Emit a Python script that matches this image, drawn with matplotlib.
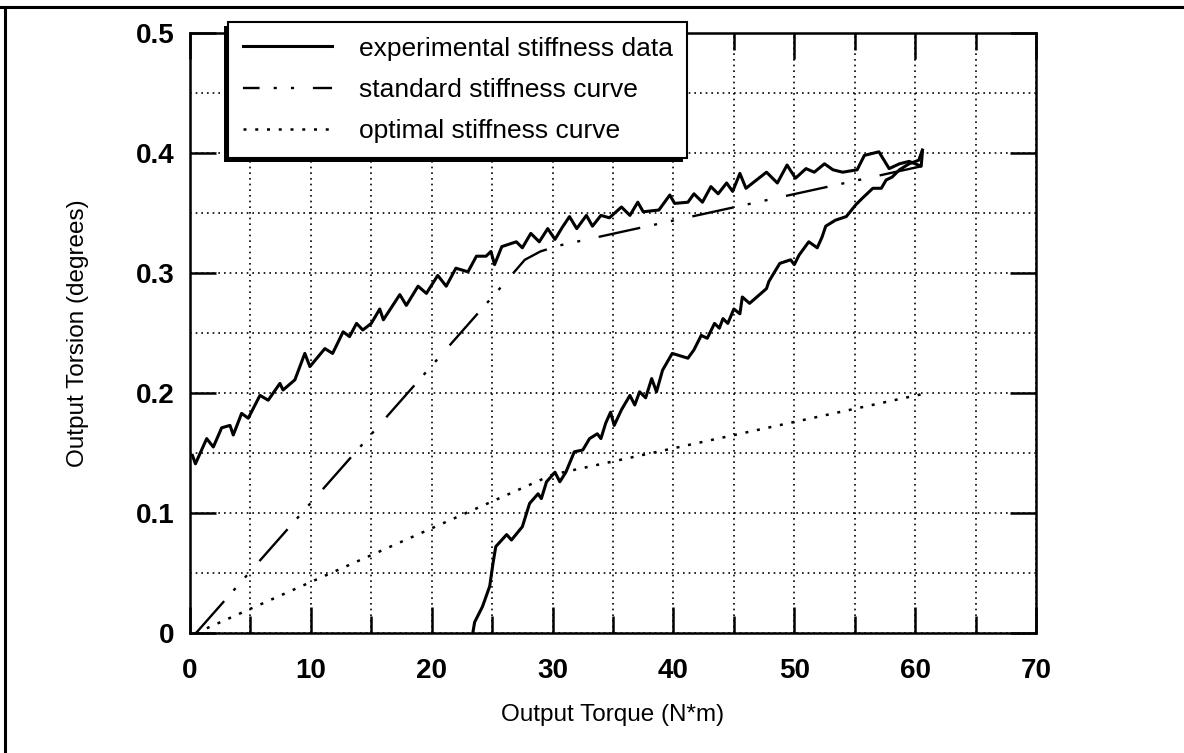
import matplotlib
matplotlib.use('Agg')
import matplotlib.pyplot as plt
from matplotlib.lines import Line2D
from matplotlib.patches import Rectangle
from matplotlib.transforms import IdentityTransform
import numpy as np

plt.rcParams['font.family'] = ['Liberation Sans', 'DejaVu Sans']

up_x = [0.2, 0.45, 1.38, 1.93, 2.62, 3.31, 3.58, 4.27, 4.82, 5.79, 6.47, 7.44, 7.7, 8.68, 9.5,
        9.92, 11.16, 11.8, 12.67, 13.2, 13.78, 14.3, 15.0, 15.7, 16.0, 17.36, 17.9, 18.87, 19.56,
        20.5, 21.2, 22.0, 23.0, 23.7, 24.5, 24.9, 25.2, 25.8, 27.0, 27.5, 28.2, 28.9, 29.6, 30.2,
        30.8, 31.4, 32.0, 32.8, 33.3, 34.0, 34.7, 35.7, 36.4, 37.05, 37.5, 38.8, 39.7, 40.1, 41.2,
        41.7, 42.4, 43.1, 43.7, 44.4, 44.9, 45.5, 46.0, 47.7, 48.6, 49.4, 50.1, 50.97, 51.65, 52.5,
        53.2, 54.0, 55.2, 55.8, 57.0, 57.85, 58.7, 59.5, 60.5, 60.6]
up_y = [0.148, 0.141, 0.162, 0.155, 0.171, 0.173, 0.165, 0.183, 0.179, 0.198, 0.194, 0.208, 0.2025,
        0.211, 0.233, 0.222, 0.237, 0.233, 0.251, 0.247, 0.258, 0.2525, 0.258, 0.27, 0.261, 0.282,
        0.273, 0.289, 0.283, 0.298, 0.289, 0.304, 0.301, 0.314, 0.314, 0.318, 0.307, 0.322, 0.326,
        0.321, 0.333, 0.326, 0.337, 0.328, 0.338, 0.347, 0.337, 0.348, 0.339, 0.348, 0.346, 0.355,
        0.348, 0.359, 0.351, 0.3525, 0.365, 0.358, 0.359, 0.366, 0.359, 0.372, 0.366, 0.375, 0.368,
        0.383, 0.3706, 0.384, 0.375, 0.39, 0.379, 0.387, 0.384, 0.391, 0.386, 0.384, 0.386, 0.398,
        0.401, 0.387, 0.391, 0.393, 0.389, 0.401]

# experimental stiffness data, lower branch
lo_x = [23.4, 23.55, 24.2, 24.8, 25.07, 25.3, 26.2, 26.6, 27.5, 28.1, 28.8, 29.07, 29.5, 30.2, 30.6,
        31.1, 31.8, 32.5, 33.06, 33.7, 34.0, 34.4, 34.8, 35.1, 35.7, 36.4, 36.8, 37.2, 37.7, 38.2,
        38.6, 39.1, 39.9, 41.2, 41.7, 42.3, 42.8, 43.4, 43.8, 44.1, 44.5, 45.0, 45.5, 45.7, 46.3,
        47.7, 47.9, 48.3, 48.8, 49.7, 50.0, 50.4, 51.2, 51.9, 52.3, 52.6, 53.4, 54.3, 55.1, 55.6,
        56.5, 57.2, 57.6, 58.1, 58.7, 59.5, 60.3, 60.6]
lo_y = [0.0, 0.009, 0.022, 0.039, 0.058, 0.072, 0.082, 0.0775, 0.0886, 0.108, 0.116, 0.112, 0.126,
        0.134, 0.126, 0.134, 0.151, 0.1525, 0.162, 0.166, 0.162, 0.175, 0.184, 0.173, 0.186, 0.198,
        0.19, 0.201, 0.196, 0.212, 0.201, 0.219, 0.233, 0.229, 0.236, 0.248, 0.2456, 0.258, 0.254,
        0.262, 0.258, 0.27, 0.266, 0.28, 0.2747, 0.287, 0.293, 0.2997, 0.308, 0.311, 0.307, 0.315,
        0.326, 0.321, 0.330, 0.339, 0.344, 0.347, 0.357, 0.362, 0.3706, 0.3706, 0.3775, 0.38,
        0.386, 0.391, 0.394, 0.4025]

# standard and optimal stiffness curves
std_x = [0.5, 26.5, 27.7, 29.0, 30.6, 61.0]
std_y = [0.0, 0.297, 0.311, 0.318, 0.323, 0.39]
opt_x = [0.5, 30.0, 61.0]
opt_y = [0.0, 0.132, 0.2]

xticks = [0, 10, 20, 30, 40, 50, 60, 70]
yticks = [0, 0.1, 0.2, 0.3, 0.4, 0.5]
ytick_labels = ['0', '0.1', '0.2', '0.3', '0.4', '0.5']

W, H = 1184, 753
fig = plt.figure(figsize=(W / 100, H / 100), dpi=100)
ax = fig.add_axes([190 / W, 1 - 633 / H, (1036 - 190) / W, 600 / H])

std_dash = [18, 6, 1.3, 6, 1.3, 8]
ax.plot(up_x, up_y, color='black', lw=2.2, label='experimental stiffness data')
ax.plot(lo_x, lo_y, color='black', lw=2.2)
ax.plot(std_x, std_y, color='black', lw=1.7, dashes=std_dash, label='standard stiffness curve')
ax.plot(opt_x, opt_y, color='black', lw=1.8, dashes=[1.2, 3.5], label='optimal stiffness curve')

ax.set_xlim(0, 70)
ax.set_ylim(0, 0.5)
ax.set_xticks(xticks)
ax.set_xticks(np.arange(0, 71, 5), minor=True)
ax.set_yticks(yticks)
ax.set_yticks(np.arange(0, 0.51, 0.05), minor=True)
ax.set_yticklabels(ytick_labels)

ax.grid(which='both', color='black', lw=1.2, dashes=(1, 2.4))
ax.tick_params(axis='x', which='major', direction='in', length=19, width=1.8, top=True,
               labelsize=20, pad=18)
ax.tick_params(axis='x', which='minor', direction='in', length=12, width=1.8, top=True)
ax.tick_params(axis='y', which='major', direction='in', length=19, width=1.8, right=True,
               labelsize=20, pad=11)
ax.tick_params(axis='y', which='minor', length=0, right=True)
for lab in ax.get_xticklabels() + ax.get_yticklabels():
    lab.set_fontweight('bold')
for sp in ax.spines.values():
    sp.set_linewidth(1.8)

ax.set_xlabel('Output Torque (N*m)', fontsize=17.5)
ax.xaxis.set_label_coords(0.5, -0.118)
ax.set_ylabel('Output Torsion (degrees)', fontsize=17.5)
ax.yaxis.set_label_coords(-0.119, 0.5)

leg = ax.legend(loc='upper left', bbox_to_anchor=(228 / W, 1 - 22 / H),
                bbox_transform=fig.transFigure, fontsize=19, frameon=True, fancybox=False,
                edgecolor='black', framealpha=1, borderaxespad=0, handlelength=3.4,
                handletextpad=1.0, borderpad=0.55, labelspacing=0.66)
leg.get_frame().set_linewidth(1.5)
leg.set_zorder(10)
leg.get_lines()[1].set_linestyle((11, std_dash))

# page border from the scan
fig.add_artist(Line2D([0, 1], [1 - 7 / H] * 2, transform=fig.transFigure, color='black', lw=2.2))
fig.add_artist(Line2D([5 / W] * 2, [0, 1 - 7 / H], transform=fig.transFigure, color='black', lw=2.2))

# legend drop shadow
fig.canvas.draw()
bb = leg.get_window_extent()
ax.add_patch(Rectangle((bb.x0 - 4, bb.y0 - 4), bb.width, bb.height, transform=IdentityTransform(),
                       facecolor='black', edgecolor='none', clip_on=False, zorder=9))

fig.savefig('out.png', dpi=100)
